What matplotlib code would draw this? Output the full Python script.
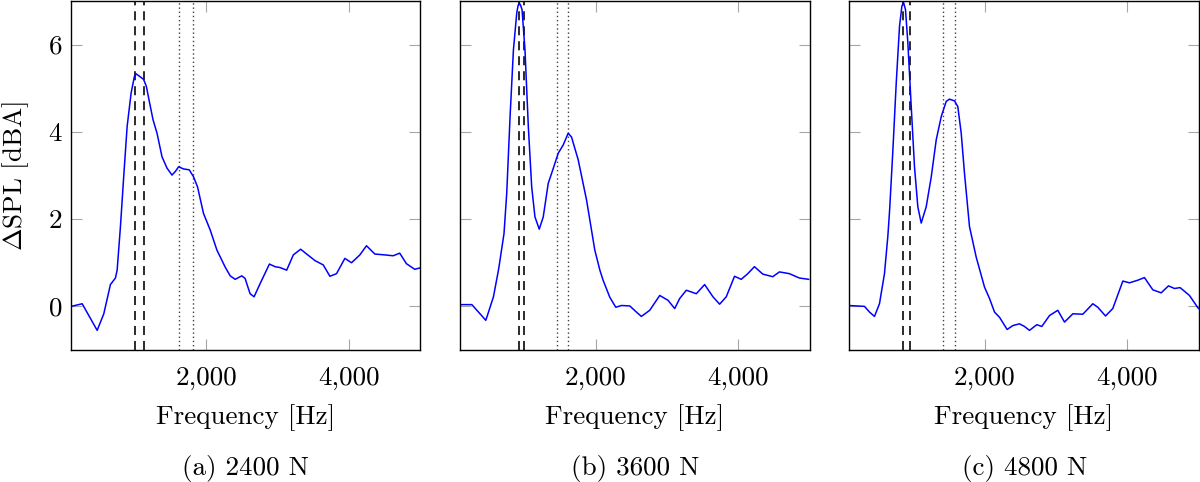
"""Delta SPL spectra for three load cases."""
import matplotlib

matplotlib.use("Agg")
import matplotlib.pyplot as plt

plt.rcParams["font.family"] = "serif"
plt.rcParams["font.serif"] = ["cmr10", "DejaVu Serif"]
plt.rcParams["mathtext.fontset"] = "cm"
plt.rcParams["axes.formatter.use_mathtext"] = True

# panel (a) 2400 N
freq_a = [107, 261, 471, 564, 657, 727, 751, 797, 843, 891, 947, 993, 1017, 1077, 1123,
          1161, 1207, 1254, 1310, 1380, 1450, 1520, 1566, 1613, 1682, 1762, 1822, 1878,
          1962, 2056, 2150, 2266, 2336, 2406, 2499, 2545, 2615, 2671, 2755, 2886, 2965,
          3035, 3128, 3221, 3324, 3408, 3524, 3641, 3734, 3827, 3944, 4037, 4154, 4247,
          4364, 4503, 4620, 4713, 4806, 4923, 4993]
dspl_a = [0.0, 0.06, -0.55, -0.17, 0.5, 0.65, 0.83, 1.82, 2.97, 4.12, 4.89, 5.27, 5.33,
          5.26, 5.2, 5.04, 4.66, 4.28, 3.97, 3.43, 3.17, 3.01, 3.09, 3.2, 3.15, 3.13,
          2.97, 2.74, 2.13, 1.75, 1.29, 0.9, 0.7, 0.62, 0.7, 0.64, 0.29, 0.22, 0.52,
          0.97, 0.91, 0.89, 0.83, 1.18, 1.31, 1.2, 1.05, 0.95, 0.69, 0.75, 1.1, 1.0,
          1.18, 1.39, 1.2, 1.18, 1.16, 1.22, 0.98, 0.85, 0.88]

# panel (b) 3600 N
freq_b = [103, 266, 359, 462, 569, 639, 661, 717, 755, 802, 849, 896, 915, 932, 950, 970,
          1011, 1058, 1105, 1151, 1211, 1267, 1337, 1407, 1477, 1547, 1617, 1664, 1757,
          1874, 1990, 2061, 2106, 2200, 2284, 2364, 2480, 2573, 2643, 2760, 2900, 3016,
          3110, 3180, 3273, 3413, 3530, 3646, 3740, 3833, 3949, 4042, 4135, 4228, 4345,
          4485, 4578, 4718, 4858, 4988]
dspl_b = [0.04, 0.04, -0.13, -0.32, 0.22, 0.83, 1.06, 1.67, 2.59, 4.35, 5.88, 6.73, 6.9,
          6.95, 6.9, 6.8, 5.88, 4.12, 2.74, 2.05, 1.77, 2.05, 2.82, 3.16, 3.51, 3.7, 3.97,
          3.88, 3.36, 2.44, 1.29, 0.83, 0.6, 0.21, -0.02, 0.02, 0.01, -0.13, -0.23,
          -0.09, 0.25, 0.14, -0.05, 0.18, 0.37, 0.29, 0.5, 0.22, 0.05, 0.22, 0.69, 0.62,
          0.75, 0.91, 0.74, 0.68, 0.79, 0.75, 0.65, 0.62]

# panel (c) 4800 N
freq_c = [93, 313, 383, 453, 523, 593, 640, 665, 711, 758, 804, 837, 860, 888, 921, 968,
          1014, 1061, 1108, 1178, 1249, 1319, 1389, 1459, 1505, 1575, 1621, 1669, 1715,
          1785, 1879, 1996, 2066, 2136, 2206, 2313, 2393, 2486, 2556, 2626, 2729, 2799,
          2907, 3023, 3117, 3234, 3374, 3514, 3584, 3692, 3794, 3935, 4028, 4145, 4238,
          4355, 4472, 4575, 4659, 4738, 4869, 4995]
dspl_c = [0.02, 0.0, -0.13, -0.23, 0.06, 0.75, 1.6, 2.2, 3.58, 5.12, 6.42, 6.88, 6.97,
          6.8, 6.04, 4.59, 3.2, 2.28, 1.91, 2.28, 2.97, 3.82, 4.35, 4.7, 4.75, 4.71, 4.58,
          3.97, 3.05, 1.83, 1.13, 0.44, 0.18, -0.13, -0.25, -0.53, -0.44, -0.4, -0.46,
          -0.55, -0.42, -0.46, -0.21, -0.09, -0.36, -0.17, -0.18, 0.06, -0.02, -0.22,
          -0.05, 0.58, 0.54, 0.6, 0.66, 0.38, 0.31, 0.47, 0.41, 0.43, 0.25, -0.05]

dashed_a = [1002, 1124]
dotted_a = [1622, 1809]
dashed_b = [923, 998]
dotted_b = [1455, 1613]
dashed_c = [855, 953]
dotted_c = [1407, 1579]

captions = ["(a) 2400 N", "(b) 3600 N", "(c) 4800 N"]
x_ticks = [2000, 4000]
y_ticks = [0, 2, 4, 6]

panels = [
    (freq_a, dspl_a, dashed_a, dotted_a),
    (freq_b, dspl_b, dashed_b, dotted_b),
    (freq_c, dspl_c, dashed_c, dotted_c),
]
lefts = [70.7, 460, 849.3]
FS = 19.5

fig = plt.figure(figsize=(12, 4.82), dpi=100)
for i, (f, d, dash, dot) in enumerate(panels):
    ax = fig.add_axes([lefts[i] / 1200, 132 / 482, 349.5 / 1200, 349 / 482])
    for xv in dash:
        ax.axvline(xv, color="0.1", lw=1.3, ls=(0, (5, 3.3)))
    for xv in dot:
        ax.axvline(xv, color="0.25", lw=1.0, ls=(0, (1, 2)))
    ax.plot(f, d, color="blue", lw=1.1)
    ax.set_xlim(100, 5000)
    ax.set_ylim(-1, 7)
    ax.set_xticks(x_ticks)
    ax.set_xticklabels(["2,000", "4,000"])
    ax.set_yticks(y_ticks)
    ax.tick_params(direction="in", length=8, width=0.8, color="0.65",
                   top=True, right=True, labelsize=FS)
    ax.tick_params(axis="x", pad=12)
    ax.tick_params(axis="y", pad=6)
    for s in ax.spines.values():
        s.set_linewidth(1.0)
    if i == 0:
        ax.set_ylabel(r"$\Delta$SPL [dBA]", fontsize=FS, labelpad=12)
    else:
        ax.set_yticklabels([])
    ax.set_xlabel("Frequency [Hz]", fontsize=FS, labelpad=10)
    fig.text((lefts[i] + 175) / 1200, 1 - 468 / 482, captions[i], ha="center",
             va="center", fontsize=FS)

fig.savefig("out.png", dpi=100)
